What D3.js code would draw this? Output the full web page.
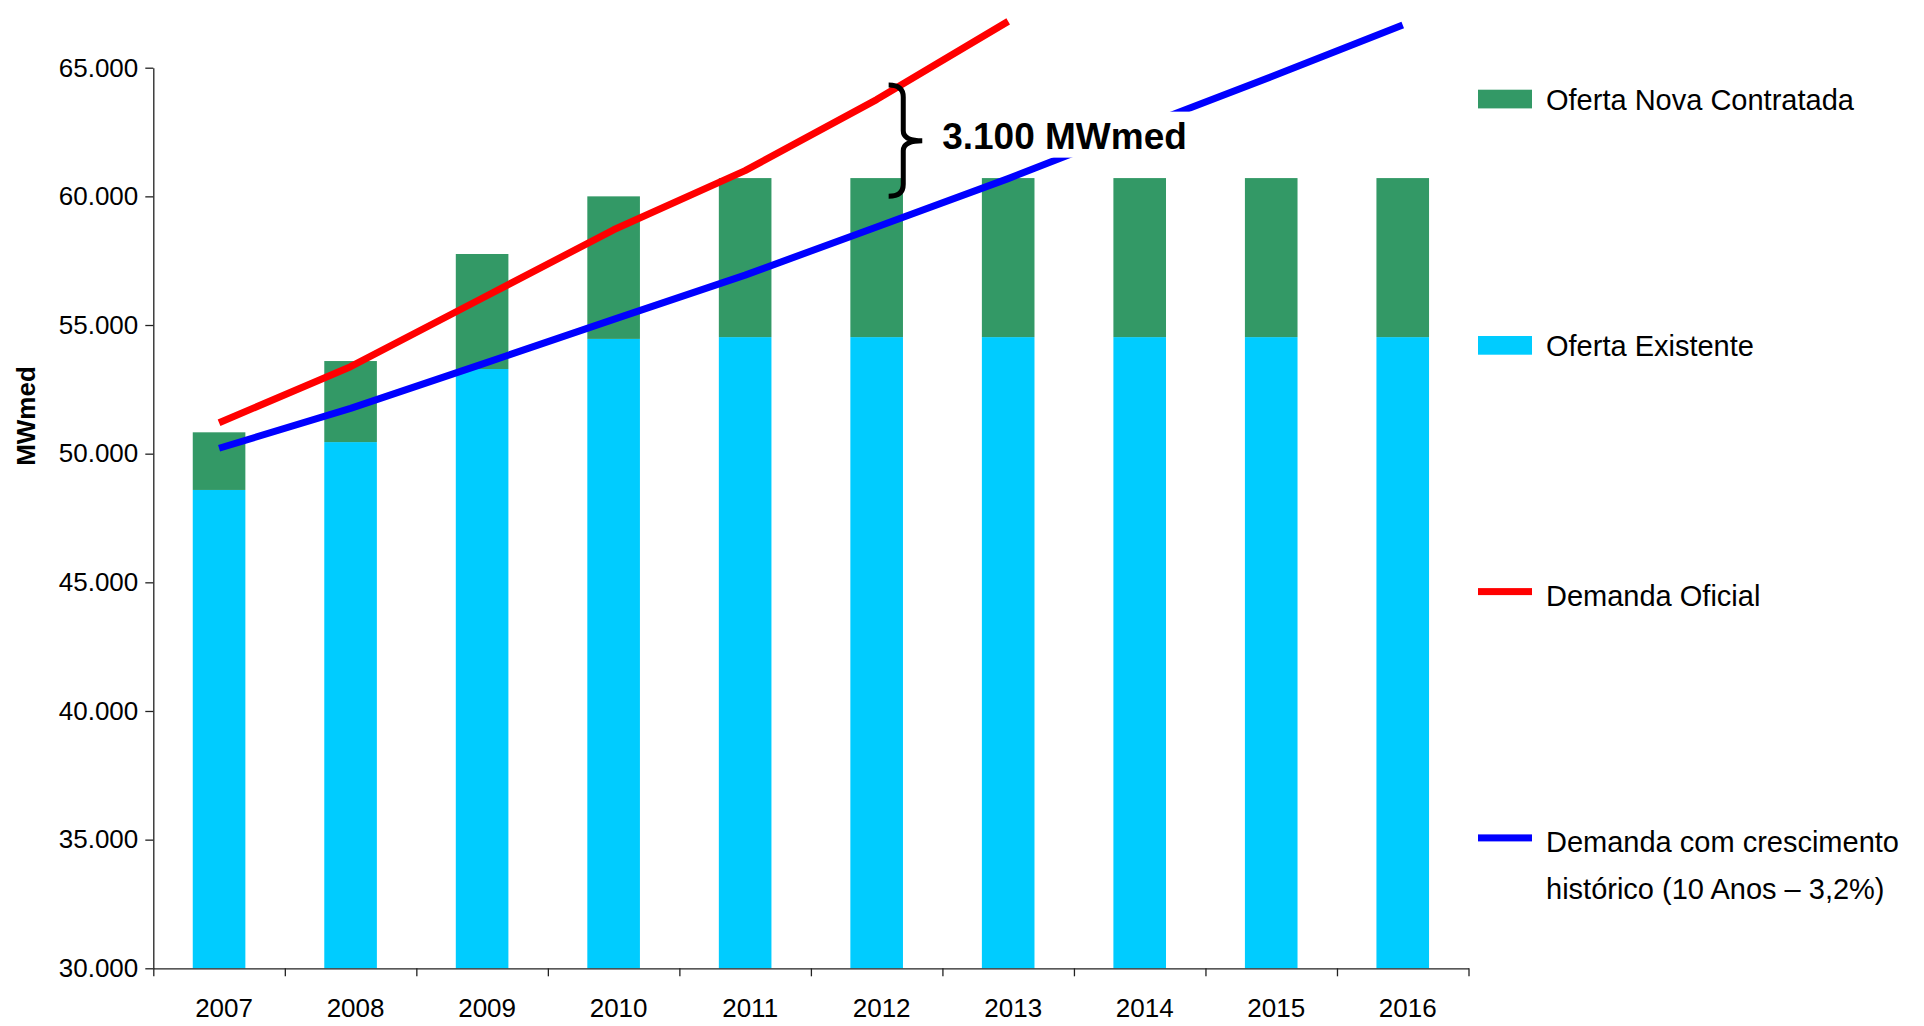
<!DOCTYPE html>
<html>
<head>
<meta charset="utf-8">
<script src="https://cdn.jsdelivr.net/npm/d3@7"></script>
<style>
  body { margin: 0; background: #fff; }
  svg { display: block; font-family: "Liberation Sans", Arial, sans-serif; }
</style>
</head>
<body>
<div id="chart"></div>
<script>
// values (MWmed)
const years = ['2007','2008','2009','2010','2011','2012','2013','2014','2015','2016'];
const ofertaExistente = [48590, 50450, 53290, 54460, 54530, 54530, 54530, 54530, 54530, 54530];
const ofertaNova = [2240, 3150, 4470, 5540, 6180, 6180, 6180, 6180, 6180, 6180];
const demandaOficial = [51200, 53380, 56040, 58700, 61000, 63760, 66800]; // 2007-2013
const demandaHistorica = [50210, 51760, 53480, 55220, 56940, 58810, 60690, 62690, 64650, 66660];
const yTicks = [30000, 35000, 40000, 45000, 50000, 55000, 60000, 65000];
const gapTop = 64330, gapBottom = 60000; // brace ends
const gapLabel = '3.100 MWmed';

const colors = { nova: '#339966', existente: '#00ccff', oficial: '#ff0000', historica: '#0000ff' };

const width = 1924, height = 1026;
const margin = { top: 67.7, left: 153.3, right: 455.5, bottom: 57.7 };
const w = width - margin.left - margin.right;
const h = height - margin.top - margin.bottom;

const svg = d3.select('#chart').append('svg').attr('width', width).attr('height', height);
const g = svg.append('g').attr('transform', `translate(${margin.left},${margin.top})`);

const x = d3.scaleBand().domain(years).range([0, w]).paddingInner(0.6).paddingOuter(0.3);
const xIdx = d3.scaleLinear().domain([0, years.length]).range([0, w]);
const y = d3.scaleLinear().domain([30000, 65000]).range([h, 0]);
const cx = d => x(d) + x.bandwidth() / 2;

const ptBR = d3.formatLocale({ decimal: ',', thousands: '.', grouping: [3], currency: ['R$', ''] });
const fmt = ptBR.format(',.0f');

// stacked bars
const stacked = years.map((yr, i) => ({ yr, base: ofertaExistente[i], nova: ofertaNova[i] }));
g.selectAll('rect.exist').data(stacked).enter().append('rect')
  .attr('x', d => x(d.yr)).attr('width', x.bandwidth())
  .attr('y', d => y(d.base)).attr('height', d => y(30000) - y(d.base))
  .attr('fill', colors.existente);
g.selectAll('rect.nova').data(stacked).enter().append('rect')
  .attr('x', d => x(d.yr)).attr('width', x.bandwidth())
  .attr('y', d => y(d.base + d.nova)).attr('height', d => y(d.base) - y(d.base + d.nova))
  .attr('fill', colors.nova);

// axes
const yAxis = g.append('g').call(d3.axisLeft(y).tickValues(yTicks).tickSize(8).tickSizeOuter(0).tickPadding(7).tickFormat(fmt));
yAxis.selectAll('text').attr('font-size', 26).attr('fill', '#000').attr('font-family', '"Liberation Sans", Arial, sans-serif');
yAxis.selectAll('line,path').attr('stroke', '#222').attr('stroke-width', 1.3);

const xTickAxis = g.append('g').attr('transform', `translate(0,${h})`)
  .call(d3.axisBottom(xIdx).ticks(years.length).tickSize(8).tickSizeOuter(0).tickFormat(''));
xTickAxis.selectAll('line,path').attr('stroke', '#222').attr('stroke-width', 1.3);

const xLabAxis = g.append('g').attr('transform', `translate(0,${h})`)
  .call(d3.axisBottom(x).tickSize(0).tickPadding(30));
xLabAxis.select('.domain').remove();
xLabAxis.selectAll('text').attr('font-size', 26).attr('fill', '#000').attr('dx', 5)
  .attr('font-family', '"Liberation Sans", Arial, sans-serif');

// lines
const line = d3.line().x(d => cx(d.yr)).y(d => y(d.v));
g.append('path').datum(demandaHistorica.map((v, i) => ({ yr: years[i], v })))
  .attr('d', line).attr('fill', 'none').attr('stroke', colors.historica).attr('stroke-width', 7)
  .attr('stroke-linejoin', 'round');
g.append('path').datum(demandaOficial.map((v, i) => ({ yr: years[i], v })))
  .attr('d', line).attr('fill', 'none').attr('stroke', colors.oficial).attr('stroke-width', 7)
  .attr('stroke-linejoin', 'round');

// gap annotation
const bx = cx('2012');
const x0 = bx + 12, x1 = bx + 26.6, x2 = bx + 45.6;
const yt = y(gapTop), yb = y(gapBottom), ym = (yt + yb) / 2;
g.append('rect').attr('x', bx + 55).attr('y', ym - 29).attr('width', 260).attr('height', 46).attr('fill', '#fff');
g.append('path')
  .attr('d', `M${x0},${yt} Q${x1},${yt} ${x1},${yt + 12} L${x1},${ym - 10} Q${x1},${ym} ${x2},${ym} Q${x1},${ym} ${x1},${ym + 10} L${x1},${yb - 12} Q${x1},${yb} ${x0},${yb}`)
  .attr('fill', 'none').attr('stroke', '#000').attr('stroke-width', 5);
g.append('text').attr('x', bx + 65.5).attr('y', ym + 8.5)
  .attr('font-size', 37).attr('font-weight', 'bold').text(gapLabel);

// y title
svg.append('text').attr('transform', 'translate(35,416) rotate(-90)').attr('text-anchor', 'middle')
  .attr('font-size', 26).attr('font-weight', 'bold').text('MWmed');

// legend
const legendItems = [
  { label: ['Oferta Nova Contratada'], color: colors.nova, type: 'rect' },
  { label: ['Oferta Existente'], color: colors.existente, type: 'rect' },
  { label: ['Demanda Oficial'], color: colors.oficial, type: 'line' },
  { label: ['Demanda com crescimento', 'histórico (10 Anos – 3,2%)'], color: colors.historica, type: 'line' }
];
const lg = svg.append('g').attr('transform', 'translate(1478,99)');
const rows = lg.selectAll('g').data(legendItems).enter().append('g')
  .attr('transform', (d, i) => `translate(0,${i * 246.3})`);
rows.append('rect')
  .attr('x', 0).attr('width', 54)
  .attr('y', d => d.type === 'rect' ? -9.3 : -3.5)
  .attr('height', d => d.type === 'rect' ? 18.7 : 7)
  .attr('fill', d => d.color);
rows.each(function(d) {
  const t = d3.select(this).append('text').attr('x', 68).attr('y', d.type === 'rect' ? 11 : 14.5).attr('font-size', 29).attr('fill', '#000');
  d.label.forEach((s, j) => t.append('tspan').attr('x', 68).attr('dy', j === 0 ? 0 : 46.7).text(s));
});
</script>
</body>
</html>
